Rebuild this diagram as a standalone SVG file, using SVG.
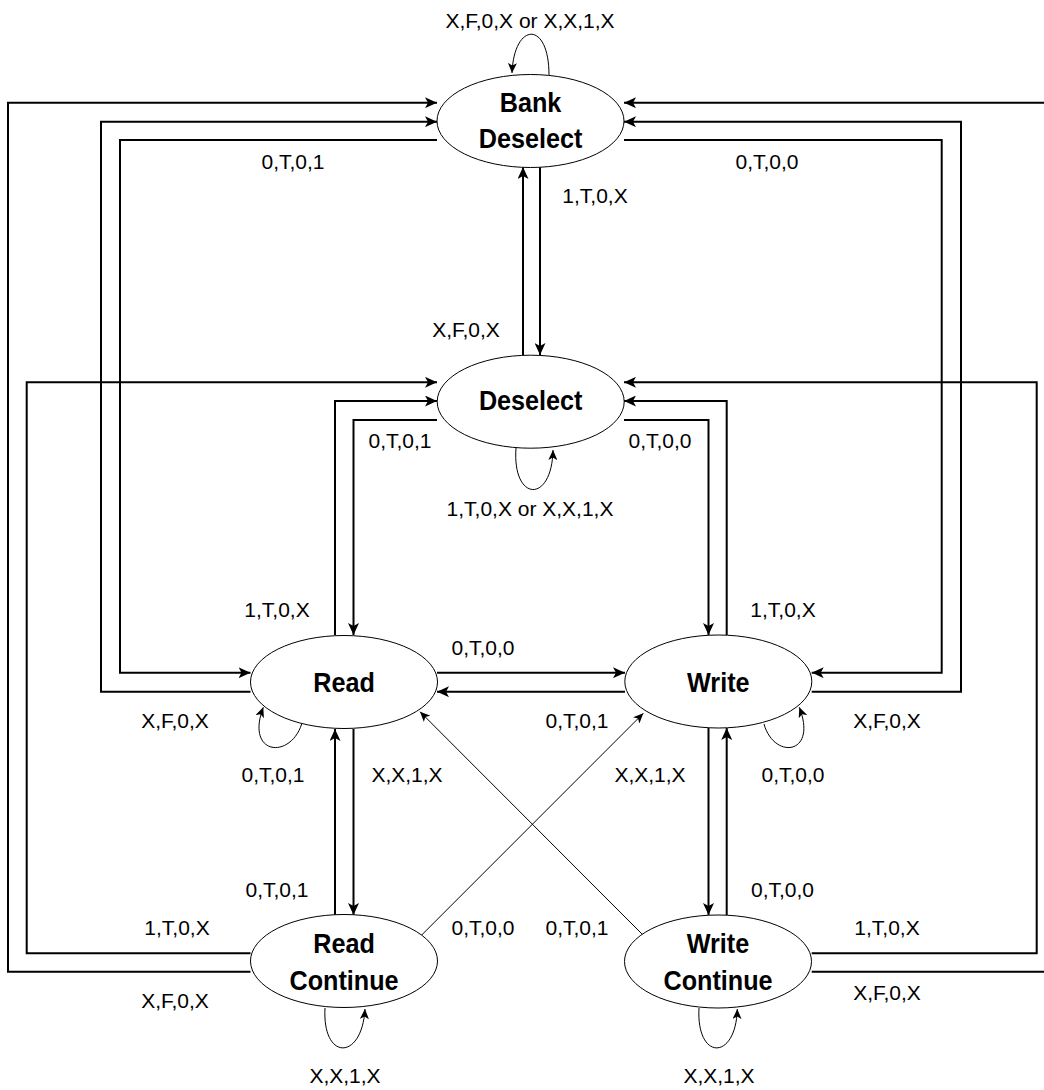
<svg xmlns="http://www.w3.org/2000/svg" width="1044" height="1090" viewBox="0 0 1044 1090">
<style>
.bg{fill:#ffffff}
.node ellipse{fill:#ffffff;stroke:#000000;stroke-width:1}
.nt{font-family:"Liberation Sans",Arial,Helvetica,sans-serif;font-size:28px;font-weight:bold;text-anchor:middle;fill:#000000}
.lbl{font-family:"Liberation Sans",Arial,Helvetica,sans-serif;font-size:21px;text-anchor:middle;fill:#000000}
.thick{fill:none;stroke:#000000;stroke-width:2;marker-end:url(#ah)}
.thin{fill:none;stroke:#000000;stroke-width:1;marker-end:url(#ahs)}
</style>
<defs>
<marker id="ah" markerUnits="userSpaceOnUse" markerWidth="12" markerHeight="11" refX="12" refY="5.5" orient="auto" viewBox="0 0 12 11">
<path d="M0,0 L12,5.5 L0,11 L3,5.5 Z" fill="#000000"/>
</marker>
<marker id="ahs" markerUnits="userSpaceOnUse" markerWidth="10" markerHeight="9" refX="10" refY="4.5" orient="auto" viewBox="0 0 10 9">
<path d="M0,0 L10,4.5 L0,9 L2.5,4.5 Z" fill="#000000"/>
</marker>
</defs>
<rect class="bg" x="0" y="0" width="1044" height="1090"/>
<g id="connectors">
<path class="thick" d="M250.5,971.7 H8 V102.7 H437"/>
<path class="thick" d="M250.5,953.3 H26.7 V382.3 H437"/>
<path class="thick" d="M250.5,691.7 H101 V121.7 H437"/>
<path class="thick" d="M437,140 H120 V672.7 H250.5"/>
<path class="thick" d="M811.7,971.7 H1052 V102.7 H624"/>
<path class="thick" d="M811.7,953.3 H1036.7 V382.3 H624"/>
<path class="thick" d="M811.7,691.7 H961 V121.7 H624"/>
<path class="thick" d="M624,140 H941.7 V672.7 H811.7"/>
<path class="thick" d="M335,635 V401 H437"/>
<path class="thick" d="M437,420 H353.5 V635"/>
<path class="thick" d="M624,420 H708.5 V635"/>
<path class="thick" d="M726.7,635 V401 H624"/>
<path class="thick" d="M540,167 V355"/>
<path class="thick" d="M523,355 V167"/>
<path class="thick" d="M437,672.7 H625"/>
<path class="thick" d="M625,691.7 H437"/>
<path class="thick" d="M353.5,729 V915"/>
<path class="thick" d="M335,915 V729"/>
<path class="thick" d="M708.5,728 V915"/>
<path class="thick" d="M726.7,915 V728"/>
<path class="thin" d="M420,936.7 L643.3,713.3"/>
<path class="thin" d="M643,935 L420,711.7"/>
<path class="thin" d="M549,75 C549,20 514,22 512,73"/>
<path class="thin" d="M516,448 C512,502 552,504 553,450"/>
<path class="thin" d="M301.7,724 C290,760 245,755 263.3,707.3"/>
<path class="thin" d="M764,724 C774,760 818,755 799.3,707.3"/>
<path class="thin" d="M325,1008 C322,1061 362,1061 365,1009"/>
<path class="thin" d="M699,1008 C696,1061 736,1061 737.3,1009"/>
</g>
<g id="labels">
<text class="lbl" x="530" y="28.3">X,F,0,X or X,X,1,X</text>
<text class="lbl" x="293" y="169">0,T,0,1</text>
<text class="lbl" x="767" y="169">0,T,0,0</text>
<text class="lbl" x="595" y="203">1,T,0,X</text>
<text class="lbl" x="466" y="337">X,F,0,X</text>
<text class="lbl" x="400" y="448">0,T,0,1</text>
<text class="lbl" x="660" y="448">0,T,0,0</text>
<text class="lbl" x="530" y="515.5">1,T,0,X or X,X,1,X</text>
<text class="lbl" x="277" y="616.5">1,T,0,X</text>
<text class="lbl" x="783" y="616.5">1,T,0,X</text>
<text class="lbl" x="483" y="655">0,T,0,0</text>
<text class="lbl" x="175" y="728">X,F,0,X</text>
<text class="lbl" x="577" y="728">0,T,0,1</text>
<text class="lbl" x="887" y="728">X,F,0,X</text>
<text class="lbl" x="273" y="782">0,T,0,1</text>
<text class="lbl" x="407" y="782">X,X,1,X</text>
<text class="lbl" x="650" y="782">X,X,1,X</text>
<text class="lbl" x="793" y="782">0,T,0,0</text>
<text class="lbl" x="277" y="896.7">0,T,0,1</text>
<text class="lbl" x="782.5" y="896.7">0,T,0,0</text>
<text class="lbl" x="177" y="935">1,T,0,X</text>
<text class="lbl" x="483" y="935">0,T,0,0</text>
<text class="lbl" x="577" y="935">0,T,0,1</text>
<text class="lbl" x="887" y="935">1,T,0,X</text>
<text class="lbl" x="175" y="1008">X,F,0,X</text>
<text class="lbl" x="887" y="1000">X,F,0,X</text>
<text class="lbl" x="345" y="1083">X,X,1,X</text>
<text class="lbl" x="719" y="1083">X,X,1,X</text>
</g>
<g id="bank-deselect" class="node">
<ellipse cx="530.5" cy="121" rx="93.5" ry="46.5"/>
<text class="nt" transform="translate(530.5,111.7) scale(0.9,1)">Bank</text>
<text class="nt" transform="translate(530.5,148.3) scale(0.9,1)">Deselect</text>
</g>
<g id="deselect" class="node">
<ellipse cx="530.7" cy="401.7" rx="93.5" ry="46.5"/>
<text class="nt" transform="translate(530.7,410) scale(0.9,1)">Deselect</text>
</g>
<g id="read" class="node">
<ellipse cx="344" cy="682" rx="93.5" ry="46.5"/>
<text class="nt" transform="translate(344,691.7) scale(0.9,1)">Read</text>
</g>
<g id="write" class="node">
<ellipse cx="718.3" cy="681.5" rx="93.5" ry="46.5"/>
<text class="nt" transform="translate(718.3,691.7) scale(0.9,1)">Write</text>
</g>
<g id="read-continue" class="node">
<ellipse cx="344" cy="961" rx="93.5" ry="46.5"/>
<text class="nt" transform="translate(344,953.3) scale(0.9,1)">Read</text>
<text class="nt" transform="translate(344,990) scale(0.9,1)">Continue</text>
</g>
<g id="write-continue" class="node">
<ellipse cx="718" cy="961.5" rx="93.5" ry="46.5"/>
<text class="nt" transform="translate(718,953.3) scale(0.9,1)">Write</text>
<text class="nt" transform="translate(718,990) scale(0.9,1)">Continue</text>
</g>
</svg>
